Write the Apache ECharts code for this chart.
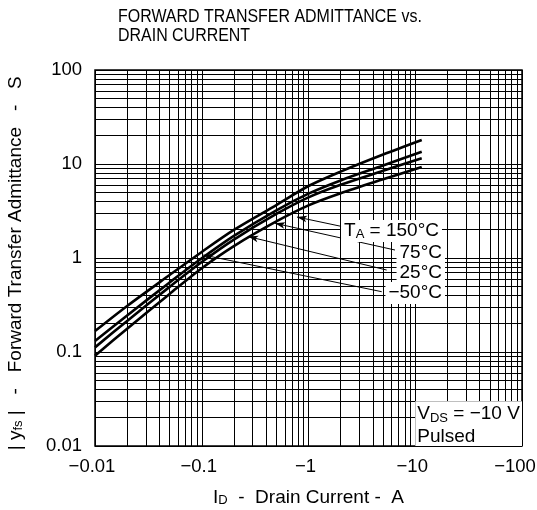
<!DOCTYPE html>
<html>
<head>
<meta charset="utf-8">
<script src="https://cdn.jsdelivr.net/npm/echarts@6/dist/echarts.min.js"></script>
<style>
  html, body { margin: 0; padding: 0; background: #fff; }
  #chart { width: 537px; height: 510px; }
</style>
</head>
<body>
<div id="chart"></div>
<script>
// drain current |ID| (A), plotted as negative on the labels
const idValues = [0.01, 0.02, 0.05, 0.1, 0.2, 0.5, 1, 2, 5, 11.5];
// |yfs| (S) per ambient temperature
const yfsM50 = [0.167, 0.309, 0.659, 1.16, 1.99, 3.66, 5.83, 8.30, 12.6, 18.0];
const yfs25 = [0.131, 0.245, 0.550, 0.993, 1.72, 3.22, 4.84, 6.69, 9.64, 13.5];
const yfs75 = [0.112, 0.214, 0.493, 0.905, 1.57, 2.94, 4.42, 6.01, 8.47, 11.5];
const yfs150 = [0.0914, 0.177, 0.415, 0.779, 1.34, 2.45, 3.63, 4.88, 6.87, 9.29];
const seriesNames = ['-50°C', '25°C', '75°C', '150°C'];

// log grid
const gridMults = [2, 3, 4, 5, 6, 7, 8, 9];
const xDecades = [0.01, 0.1, 1, 10, 100];
const yDecades = [0.01, 0.1, 1, 10, 100];

// temperature labels and their arrows (data coords)
const tempLabels = ['{t|T}{s|A}{t| = 150°C}', '{t|75°C}', '{t|25°C}', '{t|−50°C}'];
const labelAnchor = [[17.8, 1.94], [19.0, 1.13], [19.0, 0.69], [19.0, 0.425]];
const arrowFrom = [[2.11, 2.15], [6.46, 1.216], [5.40, 0.745], [4.85, 0.438]];
const arrowTo = [[0.78, 2.73], [0.486, 2.34], [0.273, 1.69], [0.1035, 1.076]];

const FONT = 'Liberation Sans, Arial, sans-serif';

function num (v) {
  return String(Number(v.toPrecision(6)));
}

function buildGridLines () {
  const lines = [];
  xDecades.forEach((d, i) => {
    lines.push({ xAxis: d });
    if (i < xDecades.length - 1) gridMults.forEach(m => lines.push({ xAxis: d * m }));
  });
  yDecades.forEach((d, i) => {
    lines.push({ yAxis: d });
    if (i < yDecades.length - 1) gridMults.forEach(m => lines.push({ yAxis: d * m }));
  });
  return lines;
}

function toPairs (ys) {
  return idValues.map((x, i) => [x, ys[i]]);
}

const subRich = {
  n: { fontFamily: FONT, fontSize: 19, color: '#000' },
  s: { fontFamily: FONT, fontSize: 13, color: '#000', verticalAlign: 'bottom', lineHeight: 15 }
};

const myChart = echarts.init(document.getElementById('chart'));

const curveSeries = [yfsM50, yfs25, yfs75, yfs150].map((ys, i) => ({
  name: seriesNames[i],
  type: 'line',
  z: 4,
  data: toPairs(ys),
  smooth: 0.3,
  symbol: 'none',
  lineStyle: { color: '#000', width: 2.6 }
}));

const option = {
  animation: false,
  backgroundColor: '#fff',
  textStyle: { fontFamily: FONT, color: '#000' },
  // title is a condensed face in the original, so squeeze it horizontally
  graphic: [{
    type: 'text',
    x: 118,
    y: 7,
    scaleX: 0.84,
    silent: true,
    style: {
      text: 'FORWARD TRANSFER ADMITTANCE vs.\nDRAIN CURRENT',
      font: '19px Liberation Sans',
      fill: '#000',
      lineHeight: 19,
      verticalAlign: 'top',
      align: 'left'
    }
  }],
  grid: {
    left: 95, right: 15, top: 70, bottom: 64,
    outerBoundsMode: 'none',
    containLabel: false,
    show: true, borderColor: '#000', borderWidth: 1.5, backgroundColor: 'transparent'
  },
  xAxis: {
    type: 'log',
    logBase: 10,
    min: 0.01,
    max: 100,
    name: '{n|I}{s|D}{n|  -  Drain Current -  A}',
    nameLocation: 'middle',
    nameGap: 42,
    nameTextStyle: { rich: subRich },
    axisLine: { show: false },
    axisTick: { show: false },
    splitLine: { show: false },
    axisLabel: {
      margin: 11,
      fontSize: 18.5,
      fontFamily: FONT,
      color: '#000',
      padding: [0, 6, 0, 0],
      formatter: v => (v >= 100 ? '{e|−' + num(v) + '}' : '−' + num(v)),
      rich: {
        e: { fontFamily: FONT, fontSize: 18.5, color: '#000', padding: [0, 8, 0, 0] }
      }
    }
  },
  yAxis: {
    type: 'log',
    logBase: 10,
    min: 0.01,
    max: 100,
    name: '{n|| y}{s|fs}{n| |   -   Forward Transfer Admittance   -   S  }',
    nameLocation: 'middle',
    nameGap: 70,
    nameTextStyle: { rich: subRich },
    axisLine: { show: false },
    axisTick: { show: false },
    splitLine: { show: false },
    axisLabel: {
      margin: 13,
      fontSize: 18.5,
      fontFamily: FONT,
      color: '#000',
      formatter: v => num(v)
    }
  },
  series: [
    {
      name: 'grid',
      type: 'line',
      z: 1,
      data: [],
      silent: true,
      markLine: {
        z: 1,
        silent: true,
        symbol: 'none',
        label: { show: false },
        lineStyle: { color: '#000', width: 1, type: 'solid' },
        data: buildGridLines()
      }
    },
    {
      name: 'conditions',
      type: 'line',
      z: 3,
      data: [],
      silent: true,
      markArea: {
        z: 3,
        silent: true,
        itemStyle: { color: '#fff' },
        label: { show: false },
        data: [[{ coord: [10, 0.01] }, { coord: [100, 0.03] }]]
      },
      markPoint: {
        z: 3,
        silent: true,
        symbol: 'circle',
        symbolSize: 0,
        label: {
          show: true,
          position: [2, 1],
          align: 'left',
          verticalAlign: 'top',
          formatter: '{t|V}{s|DS}{t| = −10 V}\n{t|Pulsed}',
          rich: {
            t: { fontFamily: FONT, fontSize: 19, color: '#000', lineHeight: 23 },
            s: { fontFamily: FONT, fontSize: 13, color: '#000', verticalAlign: 'bottom', lineHeight: 17 }
          }
        },
        data: [{ coord: [10, 0.03] }]
      }
    },
    ...curveSeries,
    {
      name: 'annotations',
      type: 'line',
      z: 6,
      data: [],
      silent: true,
      markLine: {
        z: 6,
        silent: true,
        symbol: ['none', 'arrow'],
        symbolSize: [5, 10],
        label: { show: false },
        lineStyle: { color: '#000', width: 1, type: 'solid' },
        data: arrowFrom.map((p, i) => [{ coord: p }, { coord: arrowTo[i] }])
      },
      markPoint: {
        z: 7,
        silent: true,
        symbol: 'circle',
        symbolSize: 0,
        label: {
          show: true,
          position: 'left',
          distance: 0,
          backgroundColor: '#fff',
          padding: [1, 3, 1, 3],
          rich: {
            t: { fontFamily: FONT, fontSize: 19, color: '#000', lineHeight: 20 },
            s: { fontFamily: FONT, fontSize: 13, color: '#000', verticalAlign: 'bottom', lineHeight: 15 }
          }
        },
        data: labelAnchor.map((p, i) => ({
          coord: p,
          label: { formatter: tempLabels[i] }
        }))
      }
    }
  ]
};

myChart.setOption(option);
</script>
</body>
</html>
